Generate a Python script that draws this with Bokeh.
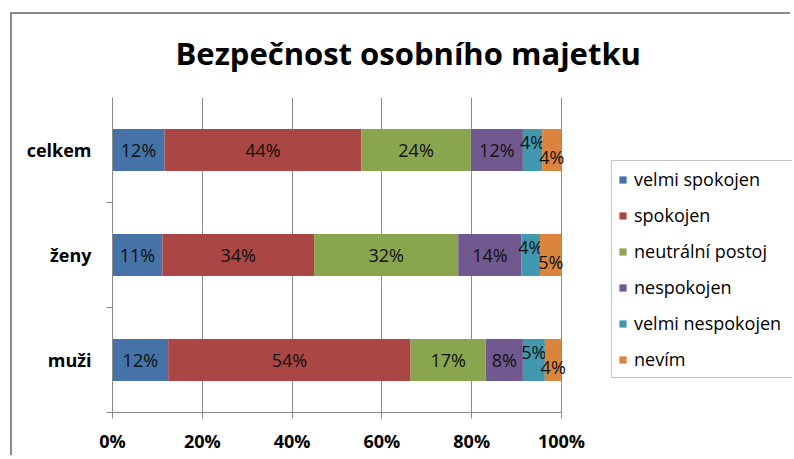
from bokeh.plotting import figure
from bokeh.models import (Range1d, LinearAxis, FixedTicker, Legend, LegendItem,
                          ColumnDataSource)
from bokeh.core.properties import value
from bokeh.embed import file_html
from bokeh.resources import INLINE

title_text = "Bezpečnost osobního majetku"
groups = ["muži", "ženy", "celkem"]  # bottom to top
series = ["velmi spokojen", "spokojen", "neutrální postoj", "nespokojen",
          "velmi nespokojen", "nevím"]
colors = ["#4572A7", "#AA4643", "#89A54E", "#71588F", "#4198AF", "#DB843D"]

velmi_spokojen = [12.4, 11.1, 11.6]
spokojen = [54.0, 33.8, 43.8]
neutralni_postoj = [16.7, 32.1, 24.4]
nespokojen = [8.3, 14.1, 11.6]
velmi_nespokojen = [4.9, 4.1, 4.3]
nevim = [3.7, 4.8, 4.3]
values = [velmi_spokojen, spokojen, neutralni_postoj, nespokojen, velmi_nespokojen, nevim]

x_ticks = [0, 20, 40, 60, 80, 100]
x_tick_labels = ["0%", "20%", "40%", "60%", "80%", "100%"]

FONT = "Open Sans"
GRAY = "#8a8a8a"
label_y_offsets = [0, 0, 0, 0, -8, 7]

# layout (pixels)
W, H = 780, 443
BORDER_L, BORDER_T, BORDER_B = 100, 83, 45
PLOT_W = 449                      # pixel width of the 0..100 % scale
FRAME_W = W - BORDER_L            # frame extends to the right edge (room for legend)

p = figure(width=W, height=H, x_range=Range1d(0, 100 * FRAME_W / PLOT_W),
           y_range=Range1d(0, 3), y_axis_type=None, output_backend="svg",
           toolbar_location=None, min_border_left=BORDER_L, min_border_right=0,
           min_border_top=BORDER_T, min_border_bottom=BORDER_B,
           styles={"margin-left": "12px", "margin-top": "14px",
                   "box-shadow": "-2px -2px 0px 0px #8a8a8a"})
p.outline_line_color = None
p.background_fill_color = "white"
p.border_fill_color = "white"

# title
p.title.text = title_text
p.title.align = "left"
p.title.offset = 63
p.title.standoff = 0
p.title.padding = dict(left=0, right=0, top=15, bottom=24)
p.title.text_font = FONT
p.title.text_font_style = "bold"
p.title.text_font_size = "31px"
p.title.text_color = "black"

# x axis
xa = p.xaxis[0]
xa.ticker = FixedTicker(ticks=x_ticks)
xa.bounds = (0, 100)
xa.major_label_overrides = {t: l for t, l in zip(x_ticks, x_tick_labels)}
xa.axis_line_color = GRAY
xa.major_tick_line_color = GRAY
xa.major_tick_out = 6
xa.major_tick_in = 0
xa.minor_tick_line_color = None
xa.major_label_text_font = FONT
xa.major_label_text_font_style = "bold"
xa.major_label_text_font_size = "18px"
xa.major_label_text_color = "black"
xa.major_label_standoff = 10

p.xgrid.ticker = FixedTicker(ticks=x_ticks)
p.xgrid.grid_line_color = GRAY
p.ygrid.grid_line_color = None

# y axes: inner with boundary ticks, outer with labels
inner = LinearAxis(ticker=FixedTicker(ticks=[0, 1, 2]), axis_line_color=GRAY,
                   major_tick_line_color=GRAY, major_tick_out=6, major_tick_in=0,
                   minor_tick_line_color=None, major_label_text_font_size="0px",
                   major_label_standoff=0)
p.add_layout(inner, "left")
centers = [i + 0.5 for i in range(len(groups))]
outer = LinearAxis(ticker=FixedTicker(ticks=centers),
                   major_label_overrides={c: g for c, g in zip(centers, groups)},
                   axis_line_color=None, major_tick_line_color=None,
                   minor_tick_line_color=None, major_label_text_font=FONT,
                   major_label_text_font_style="bold", major_label_text_font_size="18px",
                   major_label_text_color="black", major_label_standoff=9)
p.add_layout(outer, "left")

# stacked bars
items = []
left = [0.0] * len(groups)
for name, vals, col, yoff in zip(series, values, colors, label_y_offsets):
    right = [l + v for l, v in zip(left, vals)]
    src = ColumnDataSource(dict(y=centers, left=left, right=right,
                                xc=[(l + r) / 2 for l, r in zip(left, right)],
                                lab=[f"{round(v)}%" for v in vals]))
    r = p.hbar(y="y", left="left", right="right", height=0.4, source=src,
               fill_color=col, line_color=None)
    p.text(x="xc", y="y", text="lab", source=src, text_align="center",
           text_baseline="middle", text_font=value(FONT), text_font_size="18px",
           text_color="#111111", y_offset=yoff)
    items.append(LegendItem(label=name, renderers=[r]))
    left = right

legend = Legend(items=items, location=(499, 34), border_line_color=GRAY,
                border_line_width=1, label_text_font=FONT, label_text_font_size="18px",
                label_text_color="black", glyph_width=9, glyph_height=9,
                label_standoff=7, spacing=12, padding=6, label_height=20,
                label_width=154, margin=0, background_fill_color="white")
p.add_layout(legend)

open("out.html", "w").write(file_html(p, INLINE))
